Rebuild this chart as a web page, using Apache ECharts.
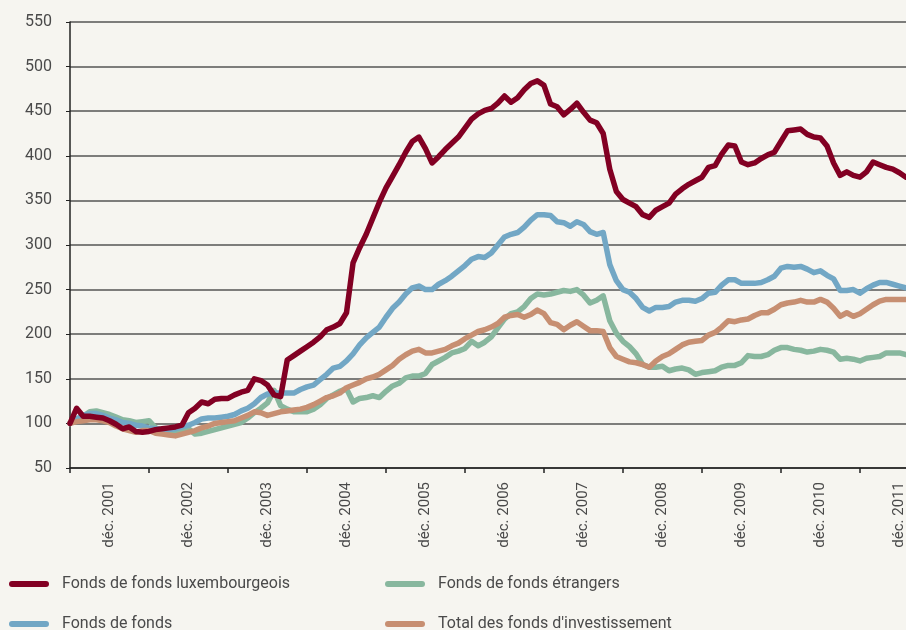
<!DOCTYPE html>
<html>
<head>
<meta charset="utf-8">
<script src="https://cdn.jsdelivr.net/npm/echarts@6/dist/echarts.min.js"></script>
<style>
  html, body { margin: 0; padding: 0; background: #f6f5f0; }
  #chart { width: 906px; height: 630px; }
</style>
</head>
<body>
<div id="chart"></div>
<script>
  // mois : juin 2001 -> janv. 2012 (128 points), base 100
  const monthNames = ['janv.', 'févr.', 'mars', 'avr.', 'mai', 'juin', 'juil.', 'août', 'sept.', 'oct.', 'nov.', 'déc.'];
  const startYear = 2001;
  const startMonth = 5; // juin
  const nbMonths = 128;

  const luxembourgeois = [
    100, 117, 108, 108, 107, 106, 103, 99, 94, 96,
    91, 90, 91, 93, 94, 95, 96, 98, 112, 117,
    124, 122, 127, 128, 128, 132, 135, 137, 150, 148,
    143, 132, 130, 171, 176, 181, 186, 191, 197, 205,
    208, 212, 224, 280, 297, 312, 330, 348, 364, 377,
    390, 404, 416, 421, 408, 392, 399, 407, 414, 421,
    431, 441, 447, 451, 453, 459, 467, 460, 465, 474,
    481, 484, 479, 458, 455, 446, 452, 459, 449, 440,
    437, 425, 385, 360, 351, 347, 343, 334, 331, 339,
    343, 347, 357, 363, 368, 372, 376, 387, 389, 402,
    412, 411, 393, 390, 392, 397, 401, 404, 416, 428,
    429, 430, 424, 421, 420, 411, 392, 378, 382, 378,
    376, 382, 393, 390, 387, 385, 381, 376
  ];
  const fondsDeFonds = [
    100, 105, 109, 111, 111, 109, 106, 104, 101, 100,
    98, 97, 95, 94, 93, 93, 94, 96, 98, 101,
    105, 106, 106, 107, 108, 110, 114, 117, 122, 129,
    133, 134, 134, 134, 134, 138, 141, 143, 149, 155,
    162, 164, 170, 178, 188, 196, 202, 208, 219, 229,
    236, 245, 252, 254, 250, 250, 256, 260, 265, 271,
    277, 284, 287, 286, 291, 300, 309, 312, 314, 320,
    328, 334, 334, 333, 326, 325, 321, 326, 323, 315,
    312, 314, 278, 260, 250, 247, 240, 230, 226, 230,
    230, 231, 236, 238, 238, 237, 240, 246, 247, 255,
    261, 261, 257, 257, 257, 258, 261, 265, 274, 276,
    275, 276, 273, 269, 271, 266, 262, 249, 249, 250,
    246, 251, 255, 258, 258, 256, 254, 252
  ];
  const etrangers = [
    100, 104, 108, 113, 114, 112, 110, 107, 104, 103,
    101, 102, 103, 95, 92, 90, 89, 93, 94, 88,
    89, 91, 93, 95, 97, 99, 101, 106, 112, 117,
    123, 137, 120, 116, 113, 113, 113, 116, 121, 128,
    132, 136, 139, 124, 128, 129, 131, 129, 136, 142,
    145, 151, 153, 153, 156, 166, 170, 174, 179, 181,
    184, 192, 187, 191, 197, 207, 217, 223, 225, 231,
    240, 245, 244, 245, 247, 249, 248, 250, 244, 235,
    238, 243, 215, 201, 192, 186, 178, 166, 163, 163,
    164, 159, 161, 162, 160, 155, 157, 158, 159, 163,
    165, 165, 168, 176, 175, 175, 177, 182, 185, 185,
    183, 182, 180, 181, 183, 182, 180, 172, 173, 172,
    170, 173, 174, 175, 179, 179, 179, 177
  ];
  const totalFonds = [
    100, 102, 103, 104, 104, 103, 101, 97, 94, 92,
    90, 92, 92, 89, 88, 87, 86, 88, 90, 92,
    95, 97, 100, 101, 102, 103, 106, 109, 113, 112,
    109, 111, 113, 114, 115, 116, 118, 121, 125, 129,
    131, 134, 140, 143, 146, 150, 152, 155, 160, 165,
    172, 177, 181, 183, 179, 179, 181, 183, 187, 190,
    195, 199, 203, 205, 208, 212, 219, 221, 222, 219,
    222, 227, 223, 213, 211, 205, 210, 214, 209, 204,
    204, 203, 185, 175, 172, 169, 168, 166, 163, 170,
    175, 178, 183, 188, 191, 192, 193, 199, 202, 208,
    215, 214, 216, 217, 221, 224, 224, 228, 233, 235,
    236, 238, 236, 236, 239, 236, 229, 220, 224, 220,
    223, 228, 233, 237, 239, 239, 239, 239
  ];

  const categories = [];
  for (let i = 0; i < nbMonths; i++) {
    const m = (startMonth + i) % 12;
    const y = startYear + Math.floor((startMonth + i) / 12);
    categories.push(monthNames[m] + ' ' + y);
  }

  const textColor = '#4a4a4a';
  const fontFamily = 'Roboto, "DejaVu Sans", sans-serif';
  const legendIcon = 'path://M3,0 L37,0 A3,3 0 0 1 37,6 L3,6 A3,3 0 0 1 3,0 Z';

  function lineSeries(name, data, color) {
    return {
      name: name,
      type: 'line',
      data: data,
      showSymbol: false,
      symbol: 'none',
      lineStyle: { color: color, width: 5.5, cap: 'round', join: 'round' },
      itemStyle: { color: color },
      animation: false
    };
  }

  // une légende par entrée, deux colonnes
  function legendItem(name, left, top) {
    return {
      left: left, top: top, padding: 0,
      itemWidth: 40, itemHeight: 6, icon: legendIcon,
      textStyle: { color: textColor, fontSize: 16, fontFamily: fontFamily, padding: [0, 0, 0, 8] },
      data: [name]
    };
  }

  const chart = echarts.init(document.getElementById('chart'));
  chart.setOption({
    backgroundColor: '#f6f5f0',
    textStyle: { fontFamily: fontFamily },
    grid: { left: 70, right: 0, top: 22, bottom: 162, containLabel: false, outerBoundsMode: 'none' },
    legend: [
      legendItem('Fonds de fonds luxembourgeois', 9, 576),
      legendItem('Fonds de fonds', 9, 616),
      legendItem('Fonds de fonds étrangers', 385, 576),
      legendItem("Total des fonds d'investissement", 385, 616)
    ],
    xAxis: {
      type: 'category',
      data: categories,
      boundaryGap: false,
      axisLine: { lineStyle: { color: '#222', width: 1.5 } },
      axisTick: {
        show: true, length: 5,
        interval: function (index) { return index % 12 === 0; },
        lineStyle: { color: '#222', width: 1.5 }
      },
      axisLabel: {
        rotate: 90, margin: 14, color: textColor, fontSize: 15, fontFamily: fontFamily,
        interval: function (index) { return index % 12 === 6; }
      },
      splitLine: { show: false }
    },
    yAxis: {
      type: 'value',
      min: 50, max: 550, interval: 50,
      axisLine: { show: true, lineStyle: { color: '#222', width: 1.5 } },
      axisTick: { show: true, length: 4, lineStyle: { color: '#222' } },
      axisLabel: { color: textColor, fontSize: 16, margin: 18, fontFamily: fontFamily },
      splitLine: { show: true, lineStyle: { color: '#555', width: 1.5 } }
    },
    series: [
      lineSeries('Fonds de fonds étrangers', etrangers, '#88b79e'),
      lineSeries('Fonds de fonds', fondsDeFonds, '#72a7c5'),
      lineSeries("Total des fonds d'investissement", totalFonds, '#c78f72'),
      lineSeries('Fonds de fonds luxembourgeois', luxembourgeois, '#820023')
    ]
  });
</script>
</body>
</html>
